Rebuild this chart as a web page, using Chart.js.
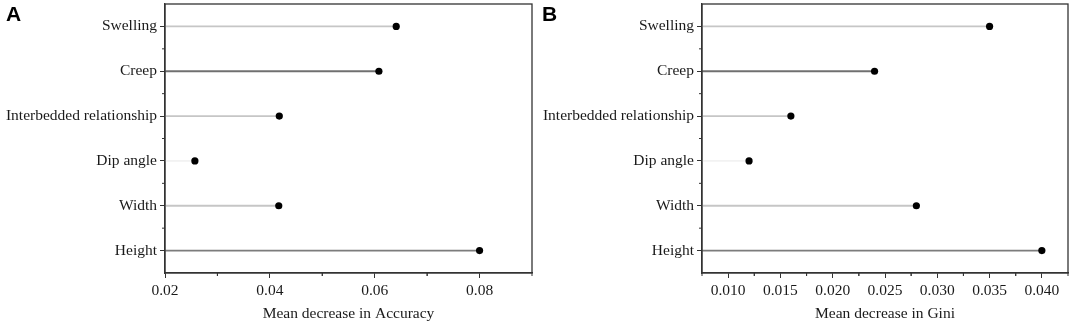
<!DOCTYPE html>
<html>
<head>
<meta charset="utf-8">
<script src="https://cdn.jsdelivr.net/npm/chart.js@4/dist/chart.umd.min.js"></script>
<style>
  body { margin: 0; background: #fff; }
  #wrap { position: relative; width: 1072px; height: 324px; overflow: hidden; }
  canvas { position: absolute; top: 0; }
  .tag { position: absolute; font: bold 21px "Liberation Sans", Arial, sans-serif; color: #000; }
</style>
</head>
<body>
<div id="wrap">
  <canvas id="chartA" style="left:0px" width="536" height="324"></canvas>
  <canvas id="chartB" style="left:536px" width="536" height="324"></canvas>
  <div class="tag" style="left:6px;top:2px">A</div>
  <div class="tag" style="left:542px;top:2px">B</div>
</div>
<script>
// data
const categories = ['Swelling', 'Creep', 'Interbedded relationship', 'Dip angle', 'Width', 'Height'];
const accuracyValues = [0.0641, 0.0608, 0.0418, 0.0257, 0.0417, 0.080];
const giniValues = [0.035, 0.024, 0.016, 0.012, 0.028, 0.040];
const accuracyTicks = [0.02, 0.04, 0.06, 0.08];
const giniTicks = [0.010, 0.015, 0.020, 0.025, 0.030, 0.035, 0.040];
const stemColors = ['#c6c6c6', '#707070', '#c6c6c6', '#f2f2f2', '#c6c6c6', '#7c7c7c'];

const serif = 'Liberation Serif, Times New Roman, serif';
const fontSize = 15.5;

// frame + minor ticks
const framePlugin = {
  id: 'frame',
  afterDraw(chart) {
    const ctx = chart.ctx;
    const a = chart.chartArea;
    ctx.save();
    ctx.strokeStyle = '#333';
    ctx.lineWidth = 1.3;
    ctx.strokeRect(a.left, a.top, a.right - a.left, a.bottom - a.top);

    ctx.lineWidth = 1;
    // minor ticks on y, between categories
    const y = chart.scales.y;
    for (let i = 0; i <= categories.length; i++) {
      const p = y.getPixelForValue(i - 0.5);
      if (p <= a.top + 1 || p >= a.bottom - 1) continue;
      ctx.beginPath();
      ctx.moveTo(a.left - 3, p);
      ctx.lineTo(a.left, p);
      ctx.stroke();
    }
    // minor ticks on x, half way between majors
    const x = chart.scales.x;
    const step = chart.options.scales.x.ticks.stepSize;
    const majors = chart.options.majorTicks;
    const minors = majors.map(v => v - step / 2).concat(majors.map(v => v + step / 2));
    minors.forEach(v => {
      if (v < x.min - 1e-9 || v > x.max + 1e-9) return;
      const p = x.getPixelForValue(v);
      ctx.beginPath();
      ctx.moveTo(p, a.bottom);
      ctx.lineTo(p, a.bottom + 3);
      ctx.stroke();
    });
    ctx.restore();
  }
};

function makeChart(id, values, majors, xMin, xMax, step, digits, title, yWidth, padRight) {
  const ctx = document.getElementById(id).getContext('2d');
  return new Chart(ctx, {
    type: 'bar',
    data: {
      labels: categories,
      datasets: [
        {
          type: 'line',
          data: values,
          showLine: false,
          pointRadius: 3.6,
          pointBackgroundColor: '#000',
          pointBorderColor: '#000',
          pointBorderWidth: 0,
          order: 0
        },
        {
          data: values,
          base: xMin,
          backgroundColor: stemColors,
          borderWidth: 0,
          barThickness: 1.2,
          order: 1
        }
      ]
    },
    options: {
      indexAxis: 'y',
      responsive: false,
      animation: false,
      majorTicks: majors,
      layout: { padding: { top: 4, right: padRight, left: 0, bottom: 0 } },
      plugins: { legend: { display: false }, tooltip: { enabled: false } },
      scales: {
        x: {
          type: 'linear',
          min: xMin,
          max: xMax,
          afterBuildTicks: s => { s.ticks = majors.map(v => ({ value: v })); },
          afterFit: s => { s.height = 51; s.paddingLeft = 0; s.paddingRight = 0; },
          ticks: {
            stepSize: step,
            color: '#1a1a1a',
            font: { family: serif, size: fontSize },
            padding: 4,
            maxRotation: 0,
            callback: v => Number(v).toFixed(digits)
          },
          grid: { drawOnChartArea: false, drawTicks: true, tickLength: 5, color: '#333' },
          border: { display: true, color: '#333', width: 1.3 },
          title: {
            display: true,
            text: title,
            color: '#1a1a1a',
            font: { family: serif, size: fontSize },
            padding: { top: 2, bottom: 1 }
          }
        },
        y: {
          afterFit: s => { s.width = yWidth; s.paddingTop = 0; s.paddingBottom = 0; },
          ticks: {
            color: '#1a1a1a',
            font: { family: serif, size: fontSize },
            padding: 3
          },
          grid: { drawOnChartArea: false, drawTicks: true, tickLength: 5, color: '#333', offset: false },
          border: { display: true, color: '#333', width: 1.3 }
        }
      }
    },
    plugins: [framePlugin]
  });
}

makeChart('chartA', accuracyValues, accuracyTicks, 0.02, 0.09, 0.02, 2, 'Mean decrease in Accuracy', 165, 4);
makeChart('chartB', giniValues, giniTicks, 0.0075, 0.0425, 0.005, 3, 'Mean decrease in Gini', 166, 3);
</script>
</body>
</html>
